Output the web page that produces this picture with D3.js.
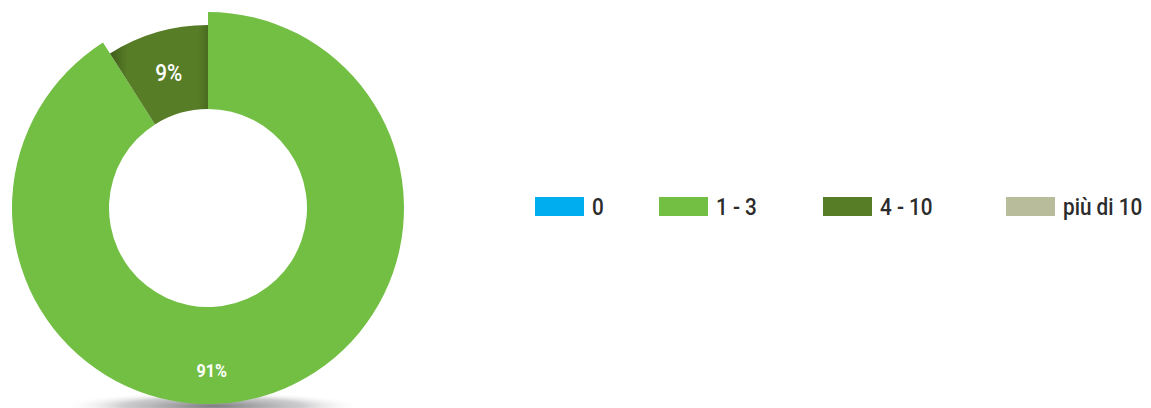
<!DOCTYPE html>
<html>
<head>
<meta charset="utf-8">
<script src="https://cdn.jsdelivr.net/npm/d3@7"></script>
<style>
  html, body { margin: 0; padding: 0; background: #fff; }
  svg { display: block; }
  .lbl { font-family: "Roboto", "Liberation Sans", sans-serif; }
</style>
</head>
<body>
<div id="chart"></div>
<script>
// ===========================
// Donut chart — share per category (0 / 1-3 / 4-10 / più di 10)
// ===========================

const categories = ['0', '1 - 3', '4 - 10', 'più di 10'];
const values = [0, 91, 9, 0];          // percentages
const colors = ['#00aeef', '#72bf44', '#577d27', '#b9bc9b'];

const W = 1151, H = 408;
const cx = 208, cy = 208;
const outerR = 196, innerR = 99;
const recessedR = 183;                 // the 4-10 slice sits lower in the original 3D render
const NARROW = 0.9;                    // condensed look of the original type

const svg = d3.select('#chart').append('svg')
    .attr('width', W)
    .attr('height', H);

const defs = svg.append('defs');

// ── Soft shadow under the donut ───────────────────────────────────────────
const shadow = defs.append('radialGradient').attr('id', 'shadow');
shadow.append('stop').attr('offset', '0%').attr('stop-color', '#6e6e72').attr('stop-opacity', 0.9);
shadow.append('stop').attr('offset', '60%').attr('stop-color', '#9a9a9e').attr('stop-opacity', 0.5);
shadow.append('stop').attr('offset', '100%').attr('stop-color', '#ffffff').attr('stop-opacity', 0);

svg.append('ellipse')
    .attr('cx', cx + 5)
    .attr('cy', cy + outerR + 2)
    .attr('rx', 150)
    .attr('ry', 14)
    .attr('fill', 'url(#shadow)');

// shading on the recessed slice (darker near its left wall)
const dark = defs.append('linearGradient')
    .attr('id', 'darkShade')
    .attr('x1', '0%').attr('x2', '100%').attr('y1', '0%').attr('y2', '0%');
dark.append('stop').attr('offset', '0%').attr('stop-color', '#3f5c1a');
dark.append('stop').attr('offset', '18%').attr('stop-color', '#577d27');
dark.append('stop').attr('offset', '90%').attr('stop-color', '#577d27');
dark.append('stop').attr('offset', '100%').attr('stop-color', '#4a6b20');

// ── Pie layout ────────────────────────────────────────────────────────────
const data = categories.map((c, i) => ({ category: c, value: values[i], color: colors[i] }));

const pie = d3.pie()
    .sort(null)
    .value(d => d.value)
    .startAngle(0)
    .endAngle(2 * Math.PI);

// big slice first, then the small one going round to 12 o'clock
const arcs = pie([data[1], data[2]]);

const arc = d3.arc()
    .innerRadius(innerR)
    .outerRadius(d => d.data.category === '4 - 10' ? recessedR : outerR);

const g = svg.append('g').attr('transform', `translate(${cx},${cy})`);

g.selectAll('path')
    .data(arcs)
    .join('path')
    .attr('d', arc)
    .attr('fill', d => d.data.category === '4 - 10' ? 'url(#darkShade)' : d.data.color);

// ── Slice labels ──────────────────────────────────────────────────────────
const labelR = { '1 - 3': 163, '4 - 10': 141 };
const labelShift = { '1 - 3': 0.26, '4 - 10': 0 };    // radians, keeps 91% near the bottom
const labelSize = { '1 - 3': 18, '4 - 10': 23 };
g.selectAll('.slice-label')
    .data(arcs)
    .join('text')
    .attr('class', 'slice-label lbl')
    .attr('transform', d => {
        const a = (d.startAngle + d.endAngle) / 2 + labelShift[d.data.category];
        const r = labelR[d.data.category];
        return `translate(${r * Math.sin(a)},${-r * Math.cos(a)}) scale(${NARROW},1)`;
    })
    .attr('text-anchor', 'middle')
    .attr('dy', '0.36em')
    .style('font-size', d => labelSize[d.data.category] + 'px')
    .style('font-weight', d => d.data.category === '1 - 3' ? 'bold' : '500')
    .style('fill', '#fff')
    .text(d => `${d.data.value}%`);

// ── Legend ────────────────────────────────────────────────────────────────
const legendX = [535, 659, 823, 1006];
const legend = svg.append('g').attr('transform', 'translate(0,197)');

const items = legend.selectAll('.item')
    .data(data)
    .join('g')
    .attr('class', 'item')
    .attr('transform', (d, i) => `translate(${legendX[i]},0)`);

items.append('rect')
    .attr('width', 49)
    .attr('height', 19)
    .attr('fill', d => d.color);

items.append('text')
    .attr('class', 'lbl')
    .attr('transform', `translate(57,18) scale(${NARROW},1)`)
    .style('font-size', '23px')
    .style('font-weight', '500')
    .style('fill', '#2b2b2b')
    .text(d => d.category);
</script>
</body>
</html>
